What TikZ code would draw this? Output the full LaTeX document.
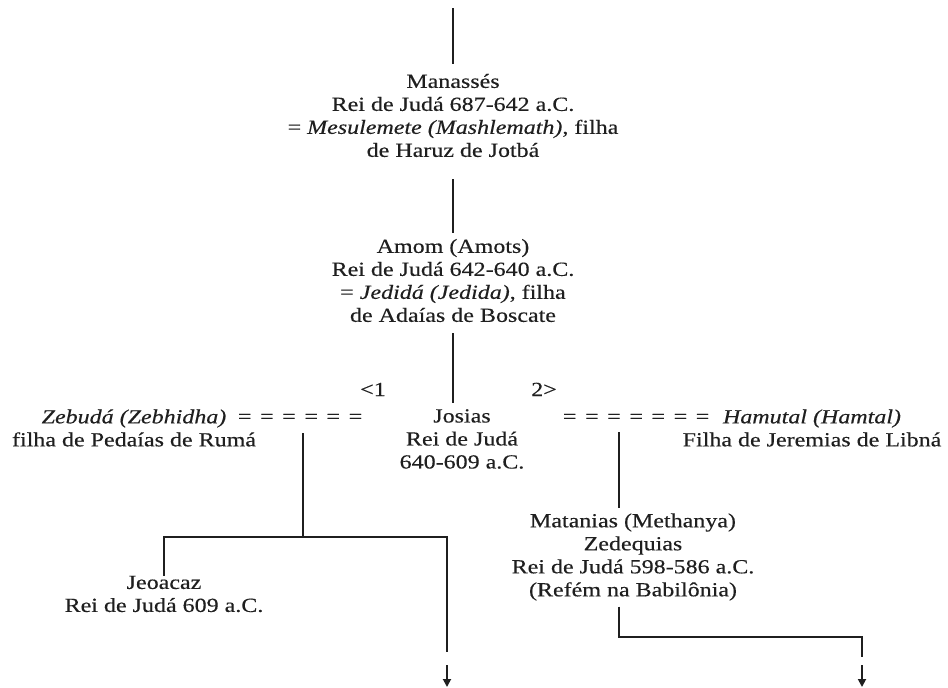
\documentclass[tikz,border=0pt]{standalone}
\usepackage{fontspec}
\setmainfont{Liberation Serif}[FakeStretch=1.2, FakeBold=0.3]
\usetikzlibrary{arrows.meta}
\definecolor{ink}{HTML}{1f1f1f}
\newcommand{\widespacing}{\spaceskip=8.6pt\relax}
\begin{document}
\begin{tikzpicture}[x=1pt,y=-1pt,
  every node/.style={inner sep=0pt, outer sep=0pt, text=ink},
  person/.style={align=center, font=\fontsize{20}{23}\selectfont},
  eqrun/.style={font=\fontsize{20}{23}\selectfont},
  link/.style={draw=ink, line width=2.5pt, line join=miter},
  cont/.style={draw=ink, line width=1.8pt, -{Triangle[length=8pt,width=8pt]}}
]
\useasboundingbox[fill=white] (0,0) rectangle (948,688);

% people
\node[person] (manasses) at (453,115.5) {Manassés\\Rei de Judá 687-642 a.C.\\= \textit{Mesulemete (Mashlemath)}, filha\\de Haruz de Jotbá};
\node[person] (amom) at (453,280.5) {Amom (Amots)\\Rei de Judá 642-640 a.C.\\= \textit{Jedidá (Jedida)}, filha\\de Adaías de Boscate};
\node[person] (josias) at (462,439) {Josias\\Rei de Judá\\640-609 a.C.};
\node[person] (zebuda) at (134,428) {\textit{Zebudá (Zebhidha)}\\filha de Pedaías de Rumá};
\node[eqrun, anchor=base west] (zdash) at (238,423) {\widespacing = = = = = =};
\node[person, anchor=base] (first) at (373,396) {<1};
\node[person, anchor=base] (second) at (544,396) {2>};
\node[eqrun, anchor=base west] (hdash) at (563,423) {\widespacing = = = = = = =};
\node[person] (hamutal) at (812,428) {\textit{Hamutal (Hamtal)}\\Filha de Jeremias de Libná};
\node[person] (matanias) at (633,557) {Matanias (Methanya)\\Zedequias\\Rei de Judá 598-586 a.C.\\(Refém na Babilônia)};
\node[person] (jeoacaz) at (164,594) {Jeoacaz\\Rei de Judá 609 a.C.};

% junctions and loose ends
\coordinate (top) at (453,8);
\coordinate (zfork) at (303,537);
\coordinate (lend) at (447,652);
\coordinate (lnext) at (447,665);
\coordinate (lnexttip) at (447,687);
\coordinate (mline) at (619,433);
\coordinate (mfork) at (862,637);
\coordinate (rend) at (862,657);
\coordinate (rnext) at (862,665);
\coordinate (rnexttip) at (862,687);

% main line
\draw[link, shorten >=10pt] (top) -- (manasses);
\draw[link, shorten <=22pt, shorten >=6pt] (manasses) -- (amom);
\draw[link, shorten <=11pt, shorten >=6pt] (amom) -- (amom |- josias.north);

% first marriage
\draw[link, shorten <=10pt] (zdash.south -| zfork) -- (zfork);
\draw[link] (jeoacaz) |- (zfork) -| (lend);
\draw[cont] (lnext) -- (lnexttip);

% second marriage
\draw[link, shorten <=9pt, shorten >=5pt] (hdash.south -| mline) -- (mline |- matanias.north);
\draw[link, shorten <=6pt] (mline |- matanias.south) |- (mfork) -- (rend);
\draw[cont] (rnext) -- (rnexttip);
\end{tikzpicture}
\end{document}
